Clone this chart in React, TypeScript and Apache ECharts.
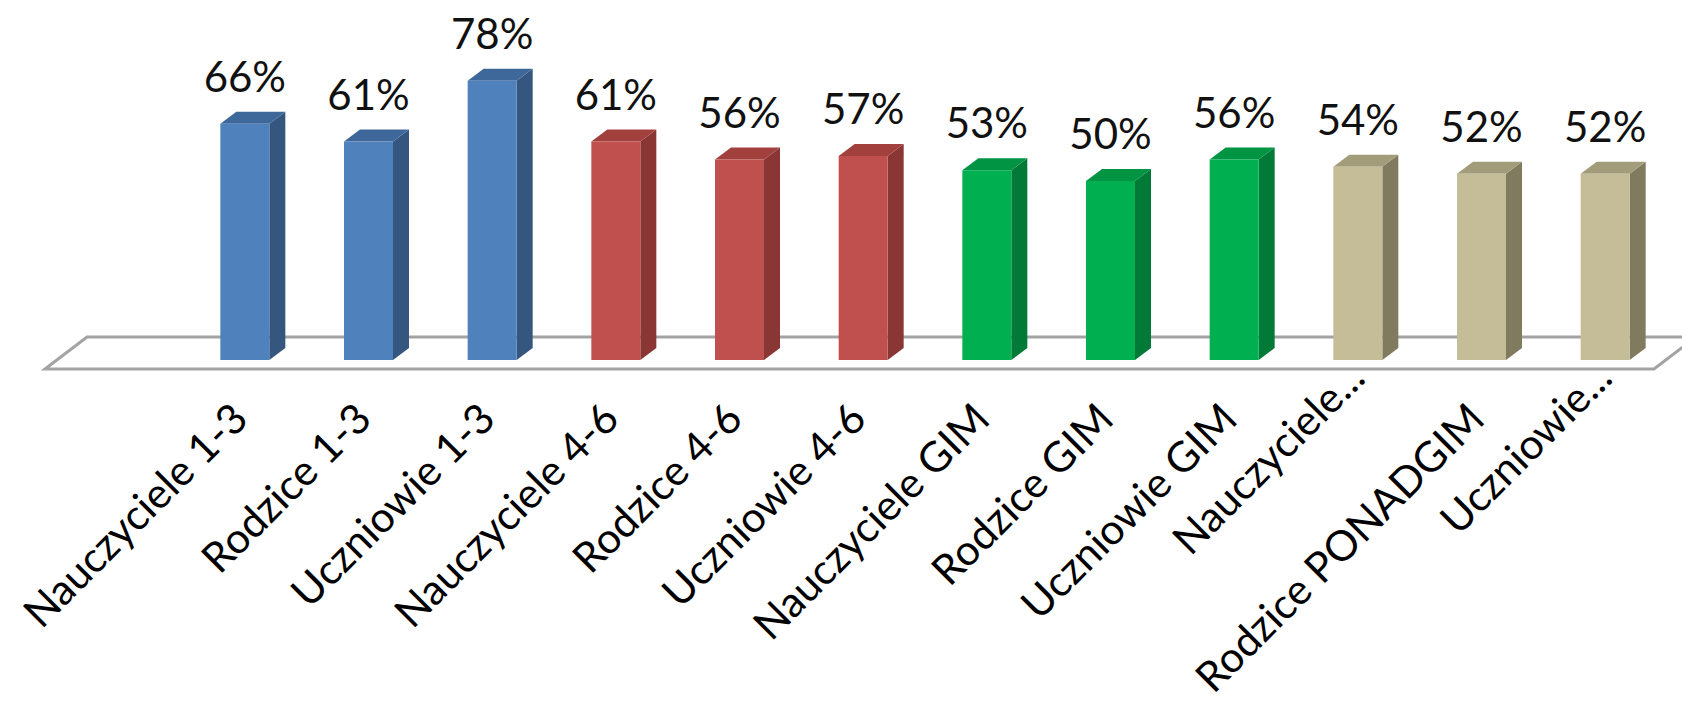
import React, { useEffect, useRef } from 'react';
import * as echarts from 'echarts';

const categories = [
  'Nauczyciele 1-3', 'Rodzice 1-3', 'Uczniowie 1-3',
  'Nauczyciele 4-6', 'Rodzice 4-6', 'Uczniowie 4-6',
  'Nauczyciele GIM', 'Rodzice GIM', 'Uczniowie GIM',
  'Nauczyciele PONADGIM', 'Rodzice PONADGIM', 'Uczniowie PONADGIM',
];
const tickLabels = [
  'Nauczyciele 1-3', 'Rodzice 1-3', 'Uczniowie 1-3',
  'Nauczyciele 4-6', 'Rodzice 4-6', 'Uczniowie 4-6',
  'Nauczyciele GIM', 'Rodzice GIM', 'Uczniowie GIM',
  'Nauczyciele...', 'Rodzice PONADGIM', 'Uczniowie...',
];
const values = [66, 61, 78, 61, 56, 57, 53, 50, 56, 54, 52, 52];
const groups = [0, 0, 0, 1, 1, 1, 2, 2, 2, 3, 3, 3];

const palette = [
  { front: '#4F81BD', side: '#34567F', top: '#3E679A' },
  { front: '#C0504D', side: '#8A3634', top: '#A2403E' },
  { front: '#00B050', side: '#007A36', top: '#009443' },
  { front: '#C4BD97', side: '#807A5E', top: '#A39C7B' },
];

const W = 1682;
const H = 704;
const BASE_Y = 360;
const GRID_LEFT = 183;
const GRID_RIGHT = 15;
const FRONT_W = 49;
const DEPTH_X = 16;
const DEPTH_Y = 12;
const FONT = 'Lato, "Open Sans", sans-serif';
const FONT_SIZE = 42;

export default function App() {
  const ref = useRef<HTMLDivElement>(null);

  useEffect(() => {
    if (!ref.current) return;
    const chart = echarts.init(ref.current, null, { renderer: 'svg' });

    const option = {
      animation: false,
      backgroundColor: '#ffffff',
      grid: { left: GRID_LEFT, right: GRID_RIGHT, top: BASE_Y - 358, bottom: H - BASE_Y },
      xAxis: {
        type: 'category',
        data: categories,
        show: false,
      },
      yAxis: { type: 'value', min: 0, max: 100, show: false },
      graphic: [
        {
          type: 'polygon',
          z: 0,
          silent: true,
          shape: {
            points: [
              [45, BASE_Y + 9],
              [87, BASE_Y - 23],
              [1696, BASE_Y - 23],
              [1654, BASE_Y + 9],
            ],
          },
          style: { fill: '#ffffff', stroke: '#a3a3a3', lineWidth: 3 },
        },
      ],
      series: [
        {
          type: 'custom',
          name: 'bars',
          z: 5,
          clip: false,
          data: values.map((v, i) => [i, v]),
          encode: { x: 0, y: 1 },
          renderItem: (params: any, api: any) => {
            const idx = api.value(0);
            const val = api.value(1);
            const top = api.coord([idx, val]);
            const base = api.coord([idx, 0]);
            const c = palette[groups[idx]];
            const x0 = top[0] - FRONT_W / 2;
            const x1 = top[0] + FRONT_W / 2;
            const yT = top[1];
            const yB = base[1];
            return {
              type: 'group',
              children: [
                {
                  type: 'polygon',
                  shape: {
                    points: [
                      [x1, yB],
                      [x1, yT],
                      [x1 + DEPTH_X, yT - DEPTH_Y],
                      [x1 + DEPTH_X, yB - DEPTH_Y],
                    ],
                  },
                  style: { fill: c.side },
                },
                {
                  type: 'polygon',
                  shape: {
                    points: [
                      [x0, yT],
                      [x0 + DEPTH_X, yT - DEPTH_Y],
                      [x1 + DEPTH_X, yT - DEPTH_Y],
                      [x1, yT],
                    ],
                  },
                  style: { fill: c.top },
                },
                {
                  type: 'rect',
                  shape: { x: x0, y: yT, width: FRONT_W, height: yB - yT },
                  style: { fill: c.front },
                },
                {
                  type: 'text',
                  x: top[0],
                  y: yT - 48,
                  style: {
                    text: val + '%',
                    align: 'center',
                    verticalAlign: 'middle',
                    fontSize: FONT_SIZE,
                    fontFamily: FONT,
                    fill: '#111111',
                  },
                },
              ],
            };
          },
        },
        {
          type: 'custom',
          name: 'labels',
          z: 5,
          clip: false,
          silent: true,
          data: tickLabels.map((_, i) => [i, 0]),
          encode: { x: 0, y: 1 },
          renderItem: (params: any, api: any) => {
            const idx = api.value(0);
            const p = api.coord([idx, 0]);
            const label = tickLabels[idx];
            const truncated = label.endsWith('...');
            return {
              type: 'text',
              x: p[0] + (truncated ? -2 : -6),
              y: p[1] + (truncated ? 9 : 50),
              rotation: Math.PI / 4,
              style: {
                text: label,
                align: 'right',
                verticalAlign: 'middle',
                fontSize: FONT_SIZE,
                fontFamily: FONT,
                fill: '#000000',
              },
            };
          },
        },
      ],
    };

    chart.setOption(option as any);
    return () => chart.dispose();
  }, []);

  return (
    <div
      ref={ref}
      style={{ position: 'fixed', left: 0, top: 0, width: W, height: H, background: '#ffffff' }}
    />
  );
}
